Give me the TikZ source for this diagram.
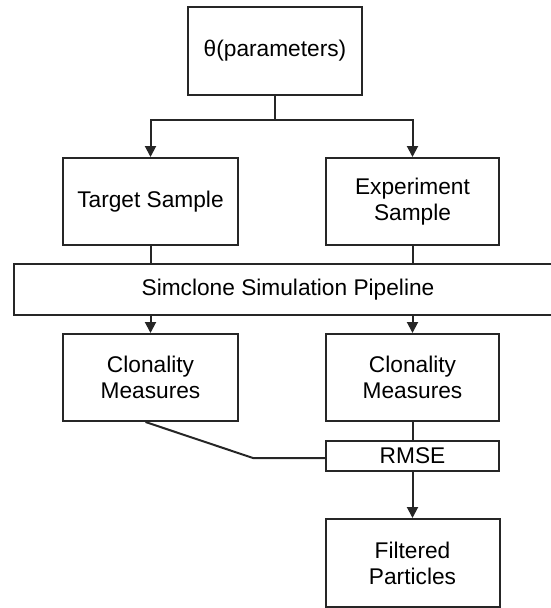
\documentclass[tikz,border=0pt]{standalone}
\usepackage{fontspec}
\setmainfont{Liberation Sans}
\usetikzlibrary{arrows.meta}

\tikzset{
  box/.style={draw=black!85, line width=2pt, align=center, font=\fontsize{22.7}{26}\selectfont, text=black},
  wire/.style={draw=black!85, line width=2pt},
  arr/.style={wire, -{Triangle[width=11pt,length=11pt]}}
}

\begin{document}
\begin{tikzpicture}[x=1pt, y=-1pt]
 \useasboundingbox (0,0) rectangle (551,608);
 \clip (0,0) rectangle (551,608);
 % boxes
 \node[box, minimum width=174pt, minimum height=88pt] (theta) at (275,51) {θ(parameters)};
 \node[box, minimum width=175pt, minimum height=87pt] (target) at (150.5,201.5) {Target Sample};
 \node[box, minimum width=173pt, minimum height=87pt] (exper) at (412.5,201.5) {Experiment\\Sample};
 \node[box, minimum width=548pt, minimum height=51pt] (pipe) at (288,289.5) {Simclone Simulation Pipeline};
 \node[box, minimum width=175pt, minimum height=87pt] (clonL) at (150.5,377.5) {Clonality\\Measures};
 \node[box, minimum width=173pt, minimum height=87pt] (clonR) at (412.5,377.5) {Clonality\\Measures};
 \node[box, minimum width=173pt, minimum height=30pt] (rmse) at (412.5,456) {RMSE};
 \node[box, minimum width=174pt, minimum height=88pt] (filt) at (412.5,563) {Filtered\\Particles};
 \coordinate (split) at (275,120);
 \coordinate (kink) at (253,458);

 \draw[wire] (theta) -- (split);
 \draw[arr] (split) -| (target);
 \draw[arr] (split) -| (exper);
 \draw[wire] (target) -- (target |- pipe.north);
 \draw[wire] (exper) -- (exper |- pipe.north);
 \draw[arr] (pipe.south -| clonL) -- (clonL);
 \draw[arr] (pipe.south -| clonR) -- (clonR);
 \draw[wire] ([xshift=-5pt]clonL.south) -- (kink) -- (kink -| rmse.west);
 \draw[wire] (clonR) -- (rmse);
 \draw[arr] (rmse) -- (filt);
\end{tikzpicture}
\end{document}
